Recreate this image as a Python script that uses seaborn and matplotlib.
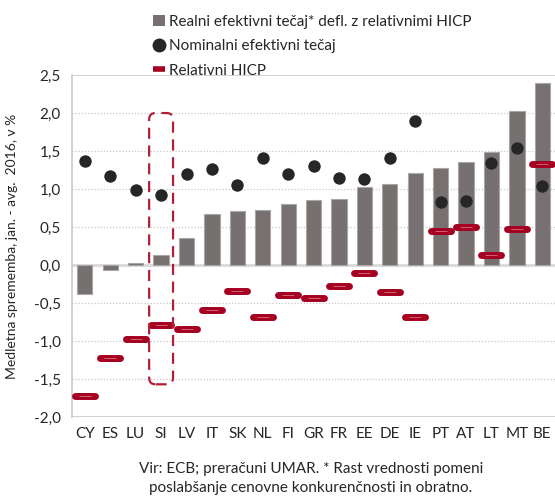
import matplotlib
matplotlib.use("Agg")
import matplotlib.pyplot as plt
from matplotlib.patches import FancyBboxPatch
from matplotlib.lines import Line2D
from matplotlib.patches import Patch
import seaborn as sns
import pandas as pd

countries = ['CY', 'ES', 'LU', 'SI', 'LV', 'IT', 'SK', 'NL', 'FI', 'GR',
             'FR', 'EE', 'DE', 'IE', 'PT', 'AT', 'LT', 'MT', 'BE']
realni = [-0.38, -0.06, 0.02, 0.13, 0.36, 0.67, 0.71, 0.72, 0.80, 0.86,
          0.87, 1.03, 1.06, 1.21, 1.28, 1.36, 1.49, 2.03, 2.40]
nominalni = [1.37, 1.17, 0.99, 0.92, 1.20, 1.26, 1.05, 1.41, 1.20, 1.30,
             1.14, 1.13, 1.41, 1.89, 0.83, 0.84, 1.34, 1.54, 1.04]
hicp = [-1.72, -1.22, -0.97, -0.79, -0.84, -0.59, -0.34, -0.68, -0.39, -0.44,
        -0.27, -0.11, -0.35, -0.68, 0.45, 0.50, 0.13, 0.47, 1.33]
yticks = [2.5, 2.0, 1.5, 1.0, 0.5, 0.0, -0.5, -1.0, -1.5, -2.0]

BAR = '#767170'
DOT = '#262626'
RED = '#a50021'
GRID = '#c9c9c9'

df = pd.DataFrame({'drzava': countries, 'realni': realni,
                   'nominalni': nominalni, 'hicp': hicp})

sns.set_theme(style='white')
plt.rcParams['font.family'] = ['Lato', 'DejaVu Sans']

fig = plt.figure(figsize=(5.55, 4.97), dpi=100)
ax = fig.add_axes([0.130, 0.161, 0.870, 0.688])

sns.barplot(data=df, x='drzava', y='realni', color=BAR, width=0.6,
            edgecolor='#aaa6a5', linewidth=0.8, saturation=1, ax=ax, zorder=2)
sns.scatterplot(data=df, x='drzava', y='nominalni', color=DOT, s=80,
                linewidth=0, ax=ax, zorder=4)
outer = ax.scatter(df['drzava'], df['hicp'], marker='_', s=210, linewidths=5,
                   color=RED, zorder=3)
outer.set_capstyle('round')
inner = ax.scatter(df['drzava'], df['hicp'], marker='_', s=80, linewidths=0.7,
                   color='#d06070', zorder=3.5)

# grid
for v in yticks:
    if v == 0.0:
        ax.axhline(v, color='#dcdcdc', lw=2.2, zorder=1)
    elif v in (2.5, -2.0):
        ax.axhline(v, color=GRID, lw=1.2, zorder=1)
    else:
        ax.axhline(v, color=GRID, lw=0.9, ls=(0, (1, 1.5)), zorder=1)

# dashed highlight around SI
si = countries.index('SI')
box = FancyBboxPatch((si - 0.47, -1.57), 0.94, 3.57,
                     boxstyle='round,pad=0,rounding_size=0.25',
                     mutation_aspect=0.334, fill=False, edgecolor='#b01f35',
                     lw=1.6, ls=(0, (5, 3)), zorder=5)
ax.add_patch(box)

ax.set_ylim(-2.0, 2.5)
ax.set_xlim(-0.5, len(countries) - 0.5)
ax.set_yticks(yticks)
ax.set_yticklabels([f'{v:.1f}'.replace('.', ',') for v in yticks], fontsize=11)
ax.tick_params(axis='x', labelsize=11, pad=7, length=0)
ax.tick_params(axis='y', pad=8, length=0)
ax.set_xlabel('')
ax.set_ylabel('Medletna sprememba, jan. - avg.  2016, v %', fontsize=10)
ax.yaxis.set_label_coords(-0.112, 0.5)
for side in ['top', 'right', 'bottom']:
    ax.spines[side].set_visible(False)
ax.spines['left'].set_color(GRID)
ax.spines['left'].set_linewidth(1.2)

handles = [Patch(facecolor=BAR, edgecolor='none'),
           Line2D([], [], marker='o', color=DOT, ls='none', markersize=9),
           Line2D([], [], color=RED, lw=4, solid_capstyle='butt')]
labels = ['Realni efektivni tečaj* defl. z relativnimi HICP',
          'Nominalni efektivni tečaj',
          'Relativni HICP']
fig.legend(handles, labels, loc='upper left', bbox_to_anchor=(0.25, 0.998),
           frameon=False, fontsize=11, handlelength=0.8, handletextpad=0.3,
           labelspacing=0.68, handleheight=0.8)

fig.text(0.56, 0.038, 'Vir: ECB; preračuni UMAR. * Rast vrednosti pomeni\n'
         'poslabšanje cenovne konkurenčnosti in obratno.',
         ha='center', va='center', fontsize=11, linespacing=1.45)

fig.savefig('out.png', dpi=100)
